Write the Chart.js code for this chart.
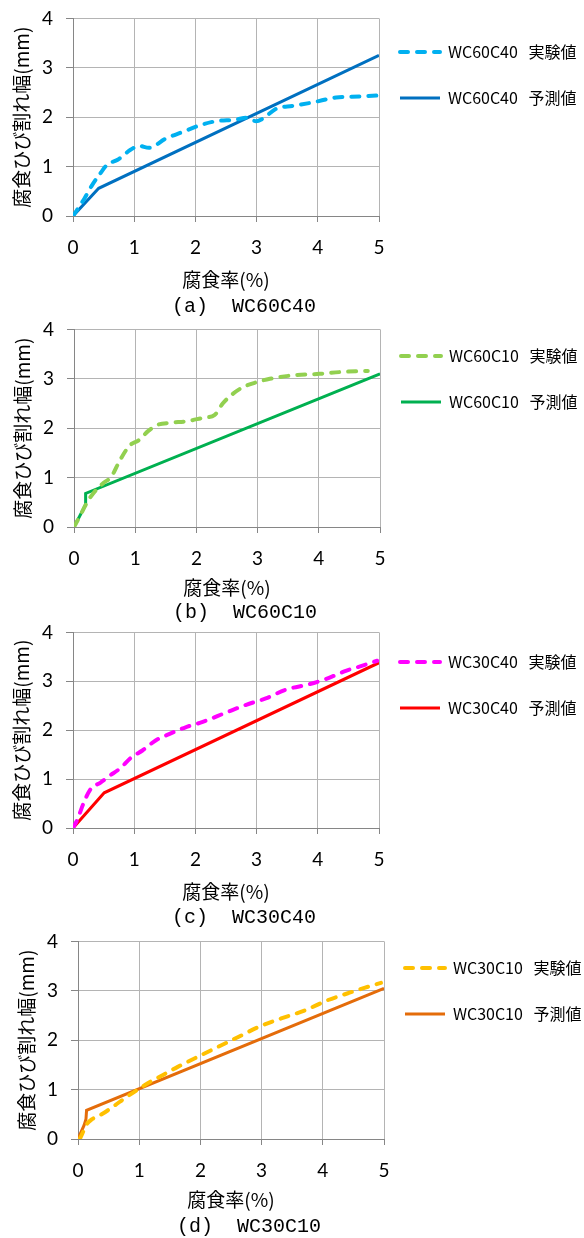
<!DOCTYPE html>
<html lang="ja">
<head>
<meta charset="utf-8">
<script src="https://cdn.jsdelivr.net/npm/chart.js@4.4.1/dist/chart.umd.min.js"></script>
<style>
  html, body { margin: 0; padding: 0; background: #fff; }
  body { position: relative; width: 584px; height: 1238px; overflow: hidden; }
  canvas { position: absolute; left: 0; }
</style>
</head>
<body>
<canvas id="chartA"></canvas>
<canvas id="chartB"></canvas>
<canvas id="chartC"></canvas>
<canvas id="chartD"></canvas>
<script>
// axis texts and ticks shared by the four panels
const xAxisTitle = '腐食率(%)';
const yAxisTitle = '腐食ひび割れ幅(mm)';
const xTicks = [0, 1, 2, 3, 4, 5];
const yTicks = [0, 1, 2, 3, 4];
const expSuffix = '   実験値';
const predSuffix = '   予測値';

// (a) WC60C40
const aExpX = [0, 0.18, 0.3, 0.45, 0.56, 0.73, 0.94, 1.08, 1.24, 1.52, 1.79, 2.06, 2.34, 2.66, 2.83, 2.99, 3.1, 3.32, 3.59, 3.92, 4.3, 4.68, 5];
const aExpY = [0, 0.34, 0.6, 0.87, 1.04, 1.14, 1.34, 1.42, 1.38, 1.57, 1.7, 1.83, 1.92, 1.95, 1.99, 1.92, 1.97, 2.17, 2.23, 2.3, 2.4, 2.42, 2.44];
const aPredX = [0, 0.42, 5];
const aPredY = [0, 0.56, 3.25];

// (b) WC60C10
const bExpX = [0, 0.1, 0.21, 0.32, 0.48, 0.61, 0.75, 0.91, 1.05, 1.21, 1.35, 1.57, 1.84, 2.11, 2.3, 2.43, 2.6, 2.76, 2.98, 3.2, 3.58, 4.01, 4.39, 4.8];
const bExpY = [0, 0.23, 0.49, 0.69, 0.89, 1.02, 1.35, 1.65, 1.75, 1.94, 2.06, 2.11, 2.14, 2.21, 2.27, 2.5, 2.7, 2.83, 2.93, 3.0, 3.07, 3.1, 3.14, 3.16];
const bPredX = [0, 0.16, 0.19, 0.19, 5];
const bPredY = [0, 0.38, 0.46, 0.68, 3.1];

// (c) WC30C40
const cExpX = [0, 0.07, 0.18, 0.29, 0.45, 0.59, 0.78, 0.94, 1.14, 1.35, 1.57, 1.84, 2.12, 2.5, 2.83, 3.15, 3.48, 3.86, 4.14, 4.47, 4.68, 4.97];
const cExpY = [0, 0.17, 0.53, 0.8, 0.93, 1.06, 1.23, 1.43, 1.59, 1.79, 1.92, 2.06, 2.17, 2.36, 2.52, 2.65, 2.83, 2.94, 3.05, 3.22, 3.3, 3.42];
const cPredX = [0, 0.51, 5];
const cPredY = [0, 0.72, 3.38];

// (d) WC30C10
const dExpX = [0.03, 0.07, 0.15, 0.23, 0.4, 0.59, 0.78, 0.94, 1.14, 1.35, 1.63, 1.95, 2.28, 2.61, 2.99, 3.32, 3.7, 4.08, 4.41, 4.68, 4.95];
const dExpY = [0, 0.11, 0.31, 0.4, 0.51, 0.67, 0.84, 0.97, 1.13, 1.27, 1.46, 1.66, 1.86, 2.06, 2.29, 2.44, 2.6, 2.81, 2.95, 3.06, 3.16];
const dPredX = [0, 0.1, 0.13, 0.14, 5];
const dPredY = [0, 0.28, 0.4, 0.58, 3.05];

const panels = [
  { id: 'chartA', name: 'WC60C40', caption: '   (a)  WC60C40', expX: aExpX, expY: aExpY, predX: aPredX, predY: aPredY,
    colors: ['#00B0F0', '#0070C0'], box: { top: 14, bottom: 216, left: 73, right: 379, xTitle: 280, caption: 307, legend: 52 } },
  { id: 'chartB', name: 'WC60C10', caption: '   (b)  WC60C10', expX: bExpX, expY: bExpY, predX: bPredX, predY: bPredY,
    colors: ['#92D050', '#00B050'], box: { top: 325, bottom: 527, left: 74, right: 380, xTitle: 588, caption: 613, legend: 356 } },
  { id: 'chartC', name: 'WC30C40', caption: '   (c)  WC30C40', expX: cExpX, expY: cExpY, predX: cPredX, predY: cPredY,
    colors: ['#FF00FF', '#FF0000'], box: { top: 628, bottom: 828, left: 73, right: 379, xTitle: 892, caption: 918, legend: 662 } },
  { id: 'chartD', name: 'WC30C10', caption: '   (d)  WC30C10', expX: dExpX, expY: dExpY, predX: dPredX, predY: dPredY,
    colors: ['#FFC000', '#E46C0A'], box: { top: 937, bottom: 1139, left: 78, right: 384, xTitle: 1200, caption: 1227, legend: 968 } }
];

Chart.defaults.font.family = 'Lato';
Chart.defaults.color = '#000';

const axisColor = '#868686';
const gridColor = '#b4b4b4';
const legendFont = { family: 'Noto Sans CJK JP', size: 16, lineHeight: '25px' };
const legendPad = 21;
const legendLine = 40;

// the legend box is sized from the measured label width so that it starts at the plot edge
const measureCtx = document.createElement('canvas').getContext('2d');
measureCtx.font = legendFont.size + 'px ' + legendFont.family;

function pts(xs, ys) {
  return xs.map((x, i) => ({ x: x, y: ys[i] }));
}

panels.forEach(p => {
  const b = p.box;
  const padTop = 20;
  const textW = Math.max(measureCtx.measureText(p.name + expSuffix).width, measureCtx.measureText(p.name + predSuffix).width);
  const legendW = Math.ceil(legendPad + legendLine + legendFont.size / 2 + textW + 10);
  const padRight = Math.max(0, 584 - b.right - legendW);
  const xh = b.xTitle - b.bottom + 11.5;
  const capTop = b.caption - b.bottom - xh - 10;
  const canvas = document.getElementById(p.id);
  canvas.width = 584;
  canvas.height = padTop + (b.bottom - b.top) + xh + capTop + 24;
  canvas.style.top = (b.top - padTop) + 'px';

  new Chart(canvas.getContext('2d'), {
    type: 'line',
    data: {
      datasets: [{
        label: p.name + expSuffix,
        data: pts(p.expX, p.expY),
        borderColor: p.colors[0],
        borderWidth: 4,
        borderDash: [8, 9],
        borderCapStyle: 'round',
        cubicInterpolationMode: 'monotone',
        pointRadius: 0,
        fill: false
      }, {
        label: p.name + predSuffix,
        data: pts(p.predX, p.predY),
        borderColor: p.colors[1],
        borderWidth: 3,
        tension: 0,
        pointRadius: 0,
        fill: false
      }]
    },
    options: {
      responsive: false,
      animation: false,
      layout: { padding: { top: padTop, right: padRight, bottom: 0, left: 0 } },
      scales: {
        x: {
          type: 'linear',
          min: xTicks[0],
          max: xTicks[xTicks.length - 1],
          afterBuildTicks: s => { s.ticks = xTicks.map(v => ({ value: v })); },
          afterFit: s => { s.height = xh; },
          grid: { color: c => (c.tick && c.tick.value === 0 ? axisColor : gridColor), tickLength: 6, tickColor: axisColor },
          border: { color: axisColor },
          ticks: { padding: 14, font: { size: 19 } },
          title: {
            display: true, text: xAxisTitle,
            font: { family: 'Noto Sans CJK JP', size: 19, lineHeight: 1 },
            padding: { top: 0, bottom: 2 }
          }
        },
        y: {
          min: yTicks[0],
          max: yTicks[yTicks.length - 1],
          afterBuildTicks: s => { s.ticks = yTicks.map(v => ({ value: v })); },
          afterFit: s => { s.width = b.left; },
          grid: { color: c => (c.tick && c.tick.value === 0 ? axisColor : gridColor), tickLength: 7, tickColor: axisColor },
          border: { color: axisColor },
          ticks: { padding: 13, font: { size: 19 } },
          title: {
            display: true, text: yAxisTitle,
            font: { family: 'Noto Sans CJK JP', size: 19, lineHeight: 1 },
            padding: { top: b.left - 60.5, bottom: 0 }
          }
        }
      },
      plugins: {
        legend: {
          position: 'right',
          align: 'start',
          maxWidth: 584 - b.right - padRight,
          title: { display: true, text: '', font: { size: 1, lineHeight: 1 }, padding: { top: b.legend - b.top - 30, bottom: 0 } },
          labels: {
            usePointStyle: true,
            pointStyle: 'line',
            pointStyleWidth: legendLine,
            padding: legendPad,
            font: legendFont,
            generateLabels: chart => chart.data.datasets.map((ds, i) => ({
              text: [ds.label],
              strokeStyle: ds.borderColor,
              fillStyle: ds.borderColor,
              lineWidth: ds.borderWidth,
              lineDash: ds.borderDash || [],
              lineCap: ds.borderCapStyle || 'butt',
              pointStyle: 'line',
              hidden: false,
              datasetIndex: i
            }))
          }
        },
        title: {
          display: true,
          position: 'bottom',
          fullSize: false,
          text: p.caption,
          font: { family: 'Liberation Mono', size: 20, weight: 'normal', lineHeight: 1 },
          padding: { top: capTop, bottom: 4 }
        },
        tooltip: { enabled: false }
      }
    }
  });
});
</script>
</body>
</html>
